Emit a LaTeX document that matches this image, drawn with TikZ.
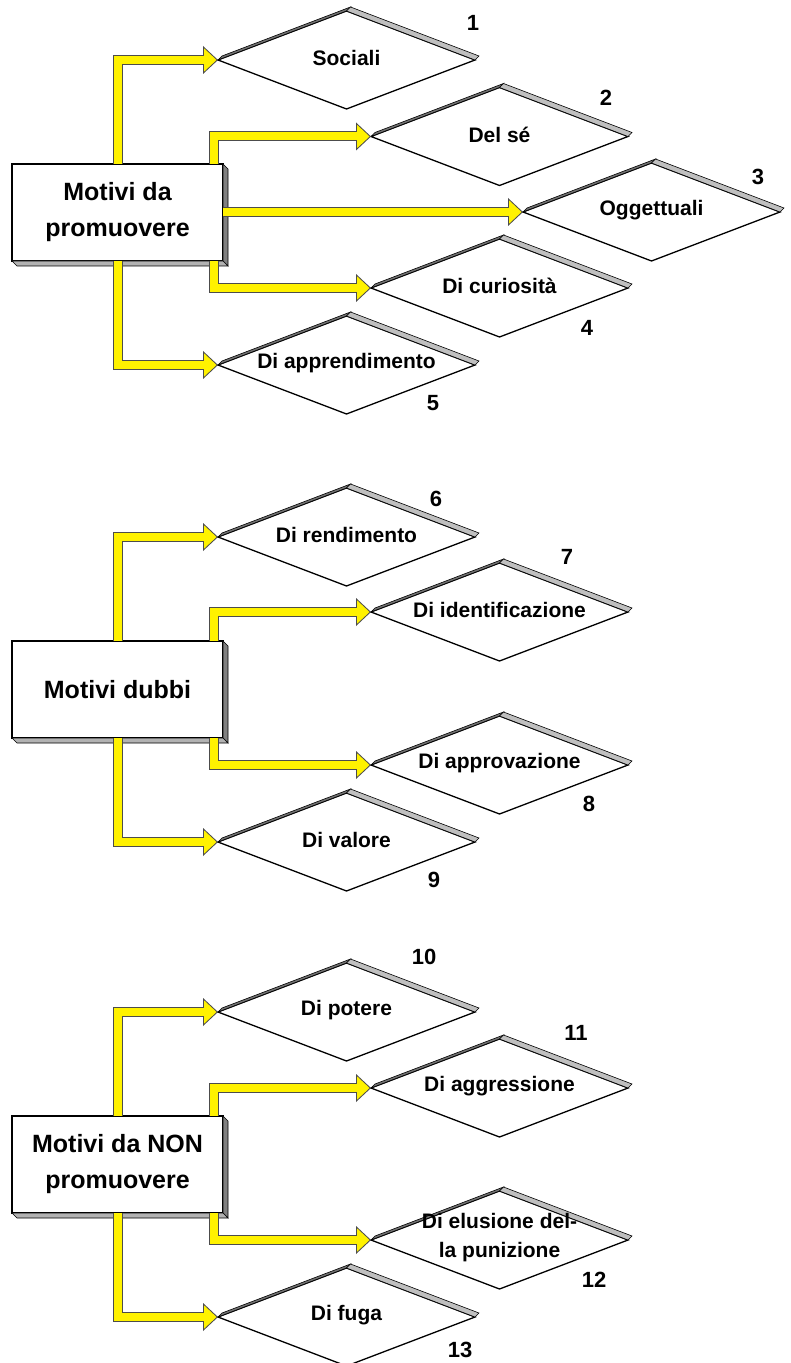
\documentclass[tikz,border=0pt]{standalone}
\usepackage{fontspec}
\setmainfont{Liberation Sans}
\usetikzlibrary{shapes.geometric,arrows.meta}

\tikzset{
  motivo/.style={draw, line width=0.7pt, fill=white, minimum width=105.5pt, minimum height=48.5pt,
    inner sep=0pt, outer sep=0pt, align=center, font=\fontsize{12.5}{18}\selectfont\bfseries},
  tipo/.style={diamond, draw, line width=0.65pt, fill=white, minimum width=128.5pt, minimum height=49pt,
    inner sep=0pt, outer sep=0pt},
  testo/.style={inner sep=0pt, align=center, font=\fontsize{10.5}{14.5}\selectfont\bfseries},
  numero/.style={inner sep=0pt, font=\fontsize{11}{13}\selectfont\bfseries},
  faccia/.style={draw=black, line width=0.3pt, fill=#1},
  freccia/.style={preaction={draw=black!70, line width=5pt, shorten >=0pt,
      -{Triangle[length=7.5pt,width=14pt,line width=0pt]}},
    draw=yellow, line width=4pt, shorten >=0.75pt,
    -{Triangle[length=6.25pt,width=11.7pt,line width=0pt]}}
}

\begin{document}
\begin{tikzpicture}[x=0.5pt,y=-0.5pt]
\useasboundingbox (0,0) rectangle (791,1363);

% riquadri dei motivi
\foreach \m/\g/\tx in {m1/0/{Motivi da\\promuovere}, m2/477/{Motivi dubbi}, m3/952/{Motivi da NON\\promuovere}}{
  \node[motivo] (\m) at (117.5,{212.5+\g}) {\tx};
  \draw[faccia=black!50] (\m.north east) -- ([shift={(5,5)}]\m.north east) -- ([shift={(5,5)}]\m.south east) -- (\m.south east) -- cycle;
  \draw[faccia=black!30] (\m.south west) -- (\m.south east) -- ([shift={(5,5)}]\m.south east) -- ([shift={(5,5)}]\m.south west) -- cycle;
}

% rombi
\foreach \tp/\x/\y/\tx in {
  t1/346.5/60/Sociali, t2/499.5/136.5/{Del sé}, t3/651.5/212/Oggettuali,
  t4/499.5/288/{Di curiosità}, t5/346.5/365/{Di apprendimento},
  t6/346.5/537/{Di rendimento}, t7/499.5/612/{Di identificazione},
  t8/499.5/765/{Di approvazione}, t9/346.5/842/{Di valore},
  t10/346.5/1012/{Di potere}, t11/499.5/1088/{Di aggressione},
  t12/499.5/1240/{Di elusione del-\\la punizione}, t13/346.5/1317/{Di fuga}}{
  \node[tipo] (\tp) at (\x,\y) {};
  \draw[faccia=black!55] (\tp.west) -- (\tp.north) -- ([shift={(4,-4)}]\tp.north) -- ([shift={(4,-4)}]\tp.west) -- cycle;
  \draw[faccia=black!25] (\tp.north) -- (\tp.east) -- ([shift={(4,-4)}]\tp.east) -- ([shift={(4,-4)}]\tp.north) -- cycle;
  \node[testo] (\tp-t) at ([yshift=1pt]\tp.center) {\tx};
}

% frecce
\foreach \m/\a/\b/\c/\e in {m1/t1/t2/t4/t5, m2/t6/t7/t8/t9, m3/t10/t11/t12/t13}{
  \draw[freccia] (\m.north) |- (\a.west);
  \draw[freccia] ([xshift=-4.75pt]\m.north east) |- (\b.west);
  \draw[freccia] ([xshift=-4.75pt]\m.south east) |- (\c.west);
  \draw[freccia] (\m.south) |- (\e.west);
}
\draw[freccia] (m1.east |- t3.west) -- (t3.west);

% numeri
\foreach \k/\x/\y in {1/473/23, 2/606/98, 3/758/177, 4/587/328, 5/433/403,
  6/436/499, 7/567/557, 8/589/804, 9/434/880,
  10/424/957, 11/576/1033, 12/594/1280, 13/460/1350}
  \node[numero] (n\k) at (\x,\y) {\k};
\end{tikzpicture}
\end{document}
